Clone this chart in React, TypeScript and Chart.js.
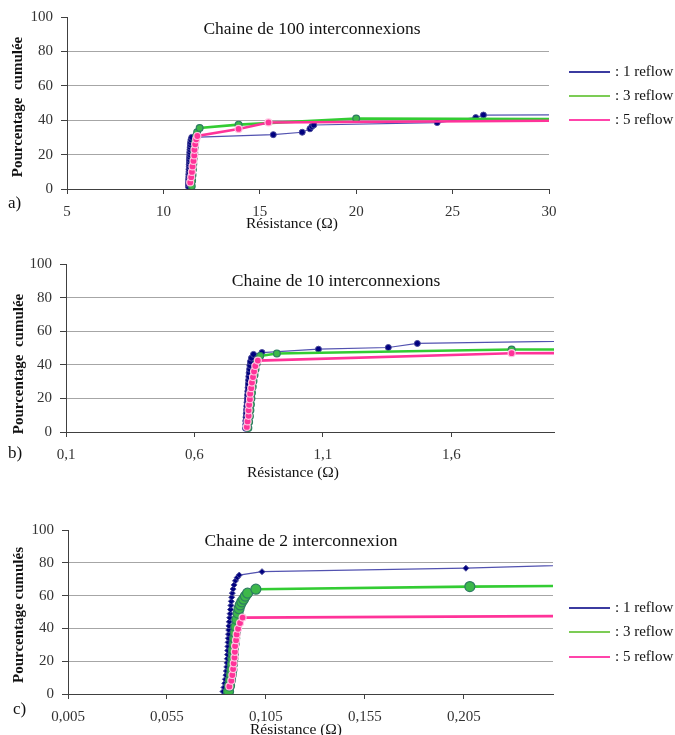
import React, { useEffect, useRef } from 'react';
import { Chart, registerables } from 'chart.js';

Chart.register(...registerables);

const SERIF = "'Liberation Serif', 'Times New Roman', serif";

// ---------- shared ----------
const seriesLabels = [': 1 reflow', ': 3 reflow', ': 5 reflow'];
const yTickValues = [0, 20, 40, 60, 80, 100];

// ---------- panel a : chaine de 100 ----------
const aTitle = 'Chaine de 100 interconnexions';
const aXTickValues = [5, 10, 15, 20, 25, 30];
const aXTickLabels = ['5', '10', '15', '20', '25', '30'];
const a1X = [11.30, 11.30, 11.31, 11.31, 11.32, 11.32, 11.33, 11.33, 11.34, 11.34, 11.35, 11.35, 11.36, 11.37, 11.37, 11.38, 11.39, 11.40, 11.41, 11.43, 11.47, 15.7, 17.2, 17.6, 17.7, 17.8, 24.2, 26.2, 26.6, 35];
const a1Y = [1.4, 2.9, 4.3, 5.7, 7.1, 8.6, 10.0, 11.4, 12.9, 14.3, 15.7, 17.1, 18.6, 20.0, 21.4, 22.9, 24.3, 25.7, 27.1, 28.6, 30.0, 31.6, 33.0, 35.0, 36.4, 37.2, 38.6, 41.5, 43.0, 43.1];
const a3X = [11.47, 11.49, 11.51, 11.53, 11.55, 11.57, 11.60, 11.62, 11.65, 11.69, 11.75, 11.88, 13.9, 20.0, 35];
const a3Y = [1.6, 4.8, 8.1, 11.3, 14.5, 17.7, 21.0, 24.2, 27.4, 30.6, 33.0, 35.5, 37.4, 41.0, 40.6];
const a5X = [11.39, 11.44, 11.48, 11.51, 11.56, 11.60, 11.61, 11.65, 11.70, 11.76, 13.9, 15.45, 35];
const a5Y = [3.8, 6.9, 9.9, 13.1, 16.3, 19.5, 22.8, 26.0, 28.9, 30.8, 34.9, 38.7, 40.0];

// ---------- panel b : chaine de 10 ----------
const bTitle = 'Chaine de 10 interconnexions';
const bXTickValues = [0.1, 0.6, 1.1, 1.6];
const bXTickLabels = ['0,1', '0,6', '1,1', '1,6'];
const b1X = [0.799, 0.800, 0.800, 0.801, 0.802, 0.803, 0.804, 0.805, 0.806, 0.807, 0.808, 0.809, 0.810, 0.811, 0.812, 0.813, 0.815, 0.816, 0.818, 0.822, 0.830, 0.863, 1.083, 1.355, 1.468, 2.6];
const b1Y = [2.2, 4.4, 6.6, 8.8, 11.0, 13.2, 15.4, 17.6, 19.8, 22.0, 24.2, 26.4, 28.6, 30.8, 33.0, 35.2, 37.4, 39.6, 41.8, 44.0, 46.2, 47.3, 49.3, 50.3, 52.7, 55.3];
const b3X = [0.810, 0.813, 0.816, 0.818, 0.820, 0.822, 0.824, 0.827, 0.830, 0.834, 0.838, 0.843, 0.849, 0.856, 0.921, 1.835, 2.6];
const b3Y = [2.4, 5.9, 9.4, 12.9, 16.4, 19.9, 23.4, 26.9, 30.4, 33.9, 37.4, 40.9, 43.5, 45.3, 46.7, 49.1, 49.3];
const b5X = [0.804, 0.807, 0.811, 0.811, 0.813, 0.816, 0.817, 0.821, 0.824, 0.828, 0.832, 0.837, 0.847, 1.835, 2.6];
const b5Y = [3.0, 6.3, 9.6, 12.9, 16.2, 19.5, 22.8, 26.1, 29.4, 32.7, 36.0, 39.3, 42.5, 46.9, 47.1];

// ---------- panel c : chaine de 2 ----------
const cTitle = 'Chaine de 2 interconnexion';
const cXTickValues = [0.005, 0.055, 0.105, 0.155, 0.205];
const cXTickLabels = ['0,005', '0,055', '0,105', '0,155', '0,205'];
const c1X = [0.0833, 0.0838, 0.0842, 0.0845, 0.0848, 0.0850, 0.0852, 0.0854, 0.0855, 0.0856, 0.0857, 0.0858, 0.0859, 0.0860, 0.0861, 0.0862, 0.0863, 0.0865, 0.0867, 0.0869, 0.0871, 0.0873, 0.0875, 0.0877, 0.0880, 0.0884, 0.0889, 0.0896, 0.0905, 0.0915, 0.103, 0.206, 0.30];
const c1Y = [1.5, 4.0, 6.5, 9.0, 11.5, 14.0, 16.5, 19.0, 21.5, 24.0, 26.5, 29.0, 31.5, 34.0, 36.5, 39.0, 41.5, 44.0, 46.5, 49.0, 51.5, 54.0, 56.5, 59.0, 61.5, 64.0, 66.5, 69.0, 71.0, 72.5, 74.6, 76.7, 80.0];
const c3X = [0.0861, 0.0866, 0.0871, 0.0875, 0.0878, 0.0881, 0.0883, 0.0885, 0.0886, 0.0889, 0.0892, 0.0895, 0.0898, 0.0903, 0.0909, 0.0914, 0.0920, 0.0928, 0.0937, 0.0946, 0.0957, 0.0999, 0.208, 0.30];
const c3Y = [1.6, 5.0, 8.5, 11.9, 14.8, 18.2, 21.5, 24.5, 27.0, 30.5, 34.0, 37.5, 41.1, 45.5, 49.3, 52.0, 54.3, 56.2, 57.8, 59.7, 61.5, 63.9, 65.5, 66.3];
const c5X = [0.0865, 0.0875, 0.0880, 0.0884, 0.0887, 0.0891, 0.0893, 0.0894, 0.0899, 0.0902, 0.0909, 0.0919, 0.0932, 0.30];
const c5Y = [4.6, 8.1, 11.6, 15.2, 18.7, 22.2, 25.7, 29.2, 32.8, 36.3, 39.8, 43.3, 46.6, 47.8];

const pts = (xs: number[], ys: number[]) => xs.map((x, i) => ({ x, y: ys[i] }));

type TextItem = { text: string; x: number; y: number; size: number; bold?: boolean; rotate?: boolean; align?: CanvasTextAlign };

type Panel = {
  xMin: number; xMax: number;
  xTicks: number[]; xLabels: string[];
  series: { x: number[]; y: number[] }[];
  area: { left: number; right: number; top: number; bottom: number };
  texts: TextItem[];
  legendY: number[] | null;
  big: boolean;
};

const CANVAS_W = 675;
const CANVAS_H = 245;

const panels: Panel[] = [
  {
    xMin: 5, xMax: 30, xTicks: aXTickValues, xLabels: aXTickLabels,
    series: [{ x: a1X, y: a1Y }, { x: a3X, y: a3Y }, { x: a5X, y: a5Y }],
    area: { left: 67, right: 549, top: 16, bottom: 189 },
    texts: [
      { text: aTitle, x: 312, y: 29, size: 17.5 },
      { text: 'Résistance (Ω)', x: 292, y: 224, size: 15.5 },
      { text: 'Pourcentage  cumulée', x: 18, y: 107, size: 15, bold: true, rotate: true },
      { text: 'a)', x: 8, y: 204, size: 17, align: 'left' },
    ],
    legendY: [72, 96, 120],
    big: false,
  },
  {
    xMin: 0.1, xMax: 2.0, xTicks: bXTickValues, xLabels: bXTickLabels,
    series: [{ x: b1X, y: b1Y }, { x: b3X, y: b3Y }, { x: b5X, y: b5Y }],
    area: { left: 66, right: 554, top: 19, bottom: 187 },
    texts: [
      { text: bTitle, x: 336, y: 36, size: 17.5 },
      { text: 'Résistance (Ω)', x: 293, y: 228, size: 15.5 },
      { text: 'Pourcentage  cumulée', x: 19, y: 119, size: 15, bold: true, rotate: true },
      { text: 'b)', x: 8, y: 209, size: 17, align: 'left' },
    ],
    legendY: null,
    big: false,
  },
  {
    xMin: 0.005, xMax: 0.25, xTicks: cXTickValues, xLabels: cXTickLabels,
    series: [{ x: c1X, y: c1Y }, { x: c3X, y: c3Y }, { x: c5X, y: c5Y }],
    area: { left: 68, right: 553, top: 40, bottom: 204 },
    texts: [
      { text: cTitle, x: 301, y: 51, size: 17.5 },
      { text: 'Résistance (Ω)', x: 296, y: 240, size: 15.5 },
      { text: 'Pourcentage cumulés', x: 19, y: 125, size: 15, bold: true, rotate: true },
      { text: 'c)', x: 13, y: 220, size: 17, align: 'left' },
    ],
    legendY: [118, 142, 167],
    big: true,
  },
];

const lineColors = ['#5252b0', '#33cc33', '#ff3399'];
const legendColors = ['#3b3ba0', '#7ccc55', '#ff44aa'];

function seriesStyle(i: number, big: boolean) {
  if (i === 0) {
    return {
      borderColor: lineColors[0], borderWidth: 1.2,
      pointBackgroundColor: '#000080', pointBorderColor: '#4a4a9a', pointBorderWidth: 1,
      pointRadius: 3, pointStyle: big ? 'rectRot' : 'circle', order: 3,
    };
  }
  if (i === 1) {
    return {
      borderColor: lineColors[1], borderWidth: 2.6,
      pointBackgroundColor: '#3db84a', pointBorderColor: '#2d7d62', pointBorderWidth: 1.2,
      pointRadius: big ? 5 : 3.4, pointStyle: 'circle', order: 2,
    };
  }
  return {
    borderColor: lineColors[2], borderWidth: 2.6,
    pointBackgroundColor: '#ff3399', pointBorderColor: '#ffc4e1', pointBorderWidth: 1.2,
    pointRadius: 3.5, pointStyle: 'circle', order: 1,
  };
}

function makeTextPlugin(p: Panel) {
  return {
    id: 'panelText',
    afterDraw(chart: any) {
      const ctx: CanvasRenderingContext2D = chart.ctx;
      ctx.save();
      ctx.fillStyle = '#111';
      ctx.textBaseline = 'middle';
      for (const t of p.texts) {
        ctx.font = `${t.bold ? 'bold ' : ''}${t.size}px ${SERIF}`;
        ctx.textAlign = t.align || 'center';
        if (t.rotate) {
          ctx.save();
          ctx.translate(t.x, t.y);
          ctx.rotate(-Math.PI / 2);
          ctx.fillText(t.text, 0, 0);
          ctx.restore();
        } else {
          ctx.fillText(t.text, t.x, t.y);
        }
      }
      if (p.legendY) {
        ctx.font = `15px ${SERIF}`;
        ctx.textAlign = 'left';
        chart.data.datasets.forEach((ds: any, i: number) => {
          const y = p.legendY![i];
          ctx.strokeStyle = legendColors[i];
          ctx.lineWidth = 2;
          ctx.beginPath();
          ctx.moveTo(569, y);
          ctx.lineTo(610, y);
          ctx.stroke();
          ctx.fillStyle = '#111';
          ctx.fillText(ds.label, 615, y);
        });
      }
      ctx.restore();
    },
  };
}

function buildConfig(p: Panel): any {
  const datasets = p.series.map((s, i) => ({
    label: seriesLabels[i],
    data: pts(s.x, s.y),
    showLine: true,
    tension: 0,
    ...seriesStyle(i, p.big),
  }));
  const leftW = p.area.left;
  const xH = CANVAS_H - p.area.bottom;
  return {
    type: 'scatter',
    data: { datasets },
    options: {
      responsive: false,
      animation: false,
      events: [],
      layout: { padding: { left: 0, top: p.area.top, right: CANVAS_W - p.area.right, bottom: 0 } },
      plugins: { legend: { display: false }, tooltip: { enabled: false }, title: { display: false } },
      scales: {
        x: {
          type: 'linear', min: p.xMin, max: p.xMax,
          afterBuildTicks: (scale: any) => { scale.ticks = p.xTicks.map((v) => ({ value: v })); },
          afterFit: (scale: any) => { scale.height = xH; },
          ticks: {
            autoSkip: false, maxRotation: 0, minRotation: 0, padding: 9,
            color: '#333', font: { family: SERIF, size: 15 },
            callback: (_v: any, idx: number) => p.xLabels[idx],
          },
          grid: { display: true, drawOnChartArea: false, drawTicks: true, tickLength: 5, tickColor: '#404040' },
          border: { display: true, color: '#404040', width: 1 },
        },
        y: {
          type: 'linear', min: 0, max: 100,
          afterBuildTicks: (scale: any) => { scale.ticks = yTickValues.map((v) => ({ value: v })); },
          afterFit: (scale: any) => { scale.width = leftW; },
          ticks: {
            padding: 8, color: '#333', font: { family: SERIF, size: 15 },
            callback: (v: any) => String(v),
          },
          grid: {
            display: true, drawTicks: true, tickLength: 6, tickColor: '#404040',
            color: (ctx: any) => (ctx.tick && (ctx.tick.value === 0 || ctx.tick.value === 100)) ? 'rgba(0,0,0,0)' : '#a6a6a6',
            lineWidth: 1,
          },
          border: { display: true, color: '#404040', width: 1 },
        },
      },
    },
    plugins: [makeTextPlugin(p)],
  };
}

function PanelChart({ panel, top }: { panel: Panel; top: number }) {
  const ref = useRef<HTMLCanvasElement>(null);
  useEffect(() => {
    if (!ref.current) return;
    const chart = new Chart(ref.current, buildConfig(panel));
    return () => chart.destroy();
  }, [panel]);
  return (
    <canvas
      ref={ref}
      width={CANVAS_W}
      height={CANVAS_H}
      style={{ position: 'absolute', left: 0, top, width: CANVAS_W, height: CANVAS_H, display: 'block' }}
    />
  );
}

export default function App() {
  return (
    <div style={{ position: 'fixed', left: 0, top: 0, width: 675, height: 735, background: '#fff', overflow: 'hidden' }}>
      <PanelChart panel={panels[0]} top={0} />
      <PanelChart panel={panels[1]} top={245} />
      <PanelChart panel={panels[2]} top={490} />
    </div>
  );
}
